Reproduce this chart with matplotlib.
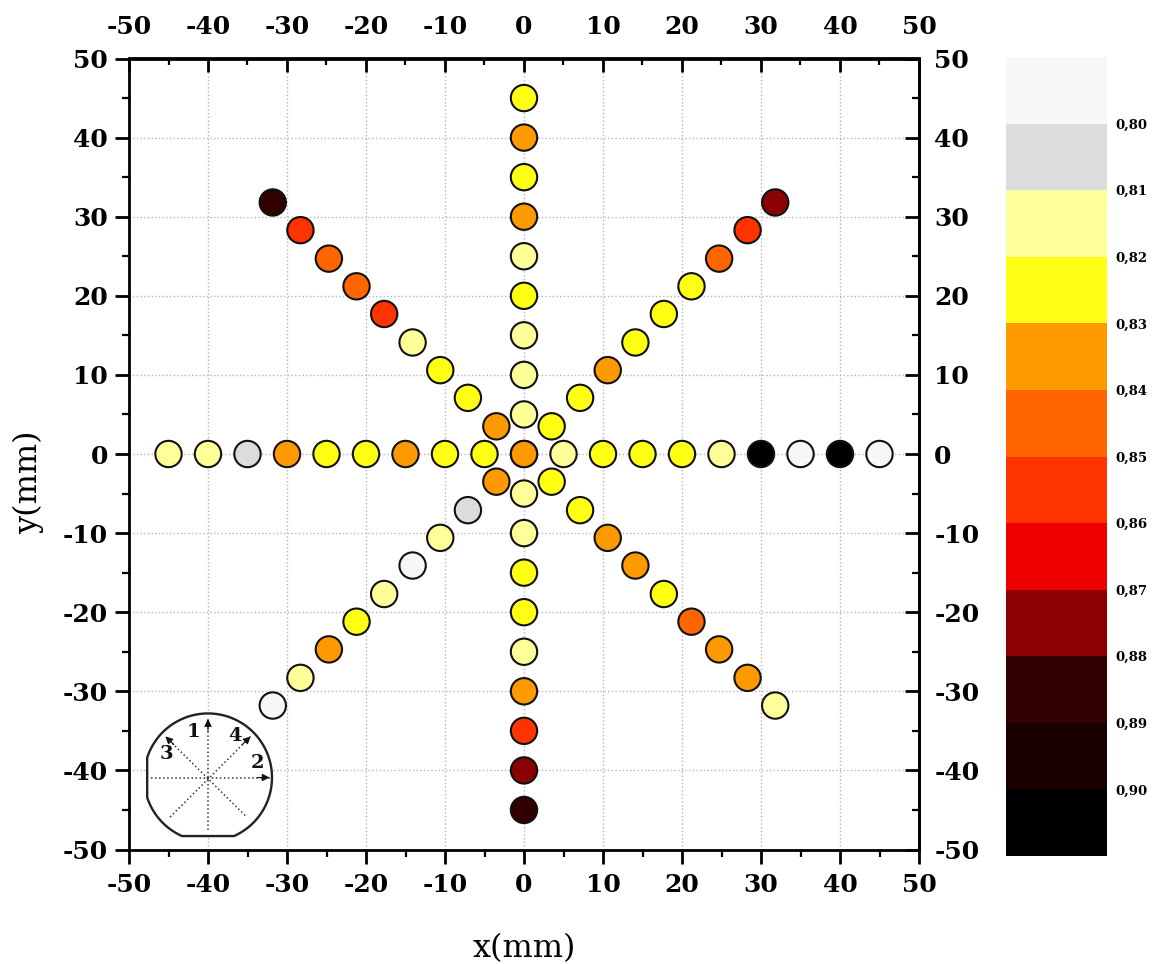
import numpy as np
import matplotlib
matplotlib.use("Agg")
import matplotlib.pyplot as plt
from matplotlib.colors import ListedColormap, BoundaryNorm

# band colours, top of the colour bar first
band_colors = ['#f7f7f7', '#dcdcdc', '#ffff99', '#ffff14', '#ff9900', '#ff6600',
               '#ff3300', '#ee0000', '#8b0000', '#330000', '#1a0000', '#000000']
band_edges = [0.79, 0.80, 0.81, 0.82, 0.83, 0.84, 0.85, 0.86, 0.87, 0.88, 0.89, 0.90, 0.91]
cbar_ticks = [0.80, 0.81, 0.82, 0.83, 0.84, 0.85, 0.86, 0.87, 0.88, 0.89, 0.90]

# line 1, x = 0, from y = 45 to -45
line1_y = [45, 40, 35, 30, 25, 20, 15, 10, 5, 0, -5, -10, -15, -20, -25, -30, -35, -40, -45]
line1_v = [0.825, 0.835, 0.825, 0.835, 0.815, 0.825, 0.815, 0.815, 0.815, 0.835,
           0.815, 0.815, 0.825, 0.825, 0.815, 0.835, 0.855, 0.875, 0.885]

# line 2, y = 0, from x = -45 to 45
line2_x = [-45, -40, -35, -30, -25, -20, -15, -10, -5, 0, 5, 10, 15, 20, 25, 30, 35, 40, 45]
line2_v = [0.815, 0.815, 0.805, 0.835, 0.825, 0.825, 0.835, 0.825, 0.825, 0.835,
           0.815, 0.825, 0.825, 0.825, 0.815, 0.905, 0.795, 0.905, 0.795]

# diagonals, distance along each axis from the centre
diag_d = [3.5, 7.1, 10.6, 14.1, 17.7, 21.2, 24.7, 28.3, 31.8]
up_right_v = [0.825, 0.825, 0.835, 0.825, 0.825, 0.825, 0.845, 0.855, 0.875]
down_left_v = [0.835, 0.805, 0.815, 0.795, 0.815, 0.825, 0.835, 0.815, 0.795]
up_left_v = [0.835, 0.825, 0.825, 0.815, 0.855, 0.845, 0.845, 0.855, 0.885]
down_right_v = [0.825, 0.825, 0.835, 0.835, 0.825, 0.845, 0.835, 0.835, 0.815]

W, H = 1152, 964
plt.rcParams['font.family'] = 'DejaVu Serif'
plt.rcParams['axes.unicode_minus'] = False

fig = plt.figure(figsize=(W / 100, H / 100), dpi=100)
ax = fig.add_axes([129 / W, 1 - 849.5 / H, 790 / W, 791 / H])

d = np.array(diag_d)
xs = np.concatenate([np.zeros(len(line1_y)), line2_x, d, -d, -d, d])
ys = np.concatenate([line1_y, np.zeros(len(line2_x)), d, -d, d, -d])
vals = np.concatenate([line1_v, line2_v, up_right_v, down_left_v, up_left_v, down_right_v])

cmap = ListedColormap(band_colors)
norm = BoundaryNorm(band_edges, cmap.N)
sc = ax.scatter(xs, ys, c=vals, cmap=cmap, norm=norm, s=360, edgecolors='#111111',
                linewidths=1.5, zorder=3, clip_on=False)

ax.set_xlim(-50, 50)
ax.set_ylim(-50, 50)
major = np.arange(-50, 51, 10)
minor = np.arange(-45, 50, 10)
ax.set_xticks(major)
ax.set_yticks(major)
ax.set_xticks(minor, minor=True)
ax.set_yticks(minor, minor=True)
ax.grid(True, which='major', color='#b5b5b5', linestyle=':', linewidth=1.0)
ax.set_axisbelow(True)
for s in ax.spines.values():
    s.set_linewidth(2.0)

ax.tick_params(which='major', length=10, width=2.0, labelsize=18, pad=3)
ax.tick_params(which='minor', length=5, width=1.6)
ax.tick_params(axis='x', which='both', bottom=True, top=False, direction='out',
               labelbottom=True, labeltop=False, pad=7)
ax.tick_params(axis='y', which='both', left=True, right=False, direction='out',
               labelleft=True, labelright=False, pad=5)
for lab in ax.get_xticklabels() + ax.get_yticklabels():
    lab.set_fontweight('bold')

# top and right axes have inward ticks
top = ax.secondary_xaxis('top')
top.set_zorder(4)
top.set_xticks(major)
top.set_xticks(minor, minor=True)
top.tick_params(which='major', direction='in', length=10, width=2.0, labelsize=18, pad=14)
top.tick_params(which='minor', direction='in', length=5, width=1.6)
top.spines['top'].set_linewidth(2.0)
right = ax.secondary_yaxis('right')
right.set_zorder(4)
right.set_yticks(major)
right.set_yticks(minor, minor=True)
right.tick_params(which='major', direction='in', length=10, width=2.0, labelsize=18, pad=11)
right.tick_params(which='minor', direction='in', length=5, width=1.6)
right.spines['right'].set_linewidth(2.0)
for lab in top.get_xticklabels() + right.get_yticklabels():
    lab.set_fontweight('bold')
for lab in right.get_yticklabels():
    lab.set_ha('left')

ax.set_xlabel('x(mm)', fontsize=23)
ax.set_ylabel('y(mm)', fontsize=23)
ax.xaxis.set_label_coords(0.5, -0.105)
ax.yaxis.set_label_coords(-0.108, 0.464)

# wafer sketch bottom left, in data units
cx, cy, R = -40.0, -40.9, 8.1
th1 = np.linspace(-np.pi / 2 + np.arccos(7.4 / R), np.pi - np.arccos(7.7 / R), 120)
th2 = np.linspace(np.pi + np.arccos(7.7 / R), 3 * np.pi / 2 - np.arccos(7.4 / R), 30)
ox = cx + R * np.concatenate([np.cos(th1), np.cos(th2)])
oy = cy + R * np.concatenate([np.sin(th1), np.sin(th2)])
ax.fill(ox, oy, facecolor='white', edgecolor='#222222', linewidth=1.7, zorder=2)
sketch_arrows = [((-7.2, 0), (7.8, 0)), ((0, -6.6), (0, 7.4)),
                 ((-4.8, -5.0), (5.4, 5.2)), ((4.7, -4.8), (-5.4, 5.2))]
for (x0, y0), (x1, y1) in sketch_arrows:
    ax.plot([cx + x0, cx + x1], [cy + y0, cy + y1], color='#333333', linestyle=':',
            linewidth=1.1, zorder=2.1)
    ax.annotate('', xy=(cx + x1, cy + y1), xytext=(cx + x1 * 0.8, cy + y1 * 0.8),
                arrowprops=dict(arrowstyle='-|>', color='#111111', lw=0.8, mutation_scale=11,
                                shrinkA=0, shrinkB=0), zorder=2.2)
sketch_labels = [('1', -1.8, 5.8), ('2', 6.2, 1.8), ('3', -5.2, 3.0), ('4', 3.4, 5.3)]
for t, dx, dy in sketch_labels:
    ax.text(cx + dx, cy + dy, t, fontsize=14, fontweight='bold', ha='center', va='center',
            color='#111111', zorder=2.3)

# colour bar
cax = fig.add_axes([1006 / W, 1 - 856 / H, 101 / W, 799 / H])
cb = fig.colorbar(sc, cax=cax, spacing='proportional', ticks=cbar_ticks, drawedges=False)
cb.outline.set_visible(False)
cax.invert_yaxis()
cax.set_yticks(cbar_ticks)
cax.set_yticklabels([f'{v:.2f}'.replace('.', ',') for v in cbar_ticks], fontsize=9.5, fontweight='bold')
cax.tick_params(length=0, pad=6)
cax.minorticks_off()

fig.savefig('out.png', dpi=100)
